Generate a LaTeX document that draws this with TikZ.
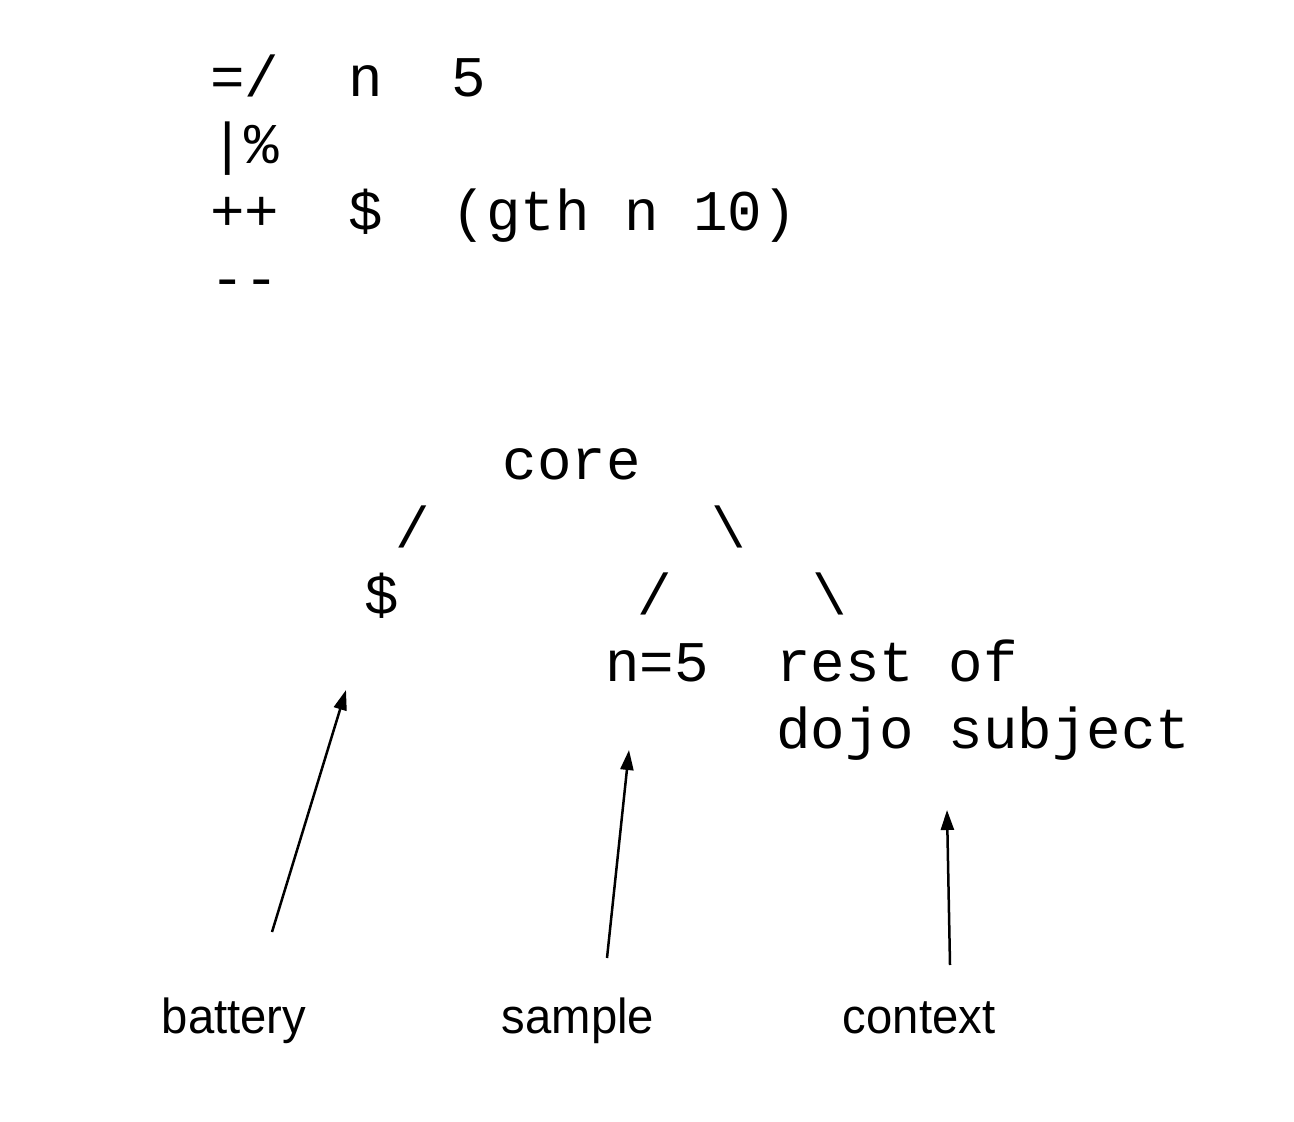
\documentclass[tikz,border=0pt]{standalone}
\usepackage{fontspec}
\setmainfont{Liberation Sans}
\newfontfamily\codefont{Liberation Mono}
\usetikzlibrary{arrows.meta}
\begin{document}
\begin{tikzpicture}[x=0.5pt,y=-0.5pt,
  code/.style={inner sep=0pt,outer sep=0pt,font=\codefont\fontsize{28.75}{33.5}\selectfont},
  lbl/.style={inner sep=0pt,outer sep=0pt,xscale=0.96,font=\fontsize{24.6}{28}\selectfont},
  arr/.style={line width=1.25pt,-{Triangle[length=10pt,width=6.5pt]}}]
\useasboundingbox[fill=white] (0,0) rectangle (1294,1122);
% code block
\node[code,anchor=base west] (l1) at (210,97) {=/\ \ n\ \ 5};
\node[code,anchor=base west] (l2) at (210,164) {|\%};
\node[code,anchor=base west] (l3) at (210,231) {++\ \ \$\ \ (gth\ n\ 10)};
\node[code,anchor=base west] (l4) at (210,298) {-{}-};
% tree
\node[code,anchor=base] (core) at (572,480) {core};
\node[code,anchor=base] (s1) at (413,547) {/};
\node[code,anchor=base] (b1) at (729,547) {\textbackslash};
\node[code,anchor=base] (dollar) at (382,614) {\$};
\node[code,anchor=base] (s2) at (655,614) {/};
\node[code,anchor=base] (b2) at (830,614) {\textbackslash};
\node[code,anchor=base] (n5) at (657,681) {n=5};
\node[code,anchor=base west] (rest) at (776,681) {rest\ of};
\node[code,anchor=base west] (dojo) at (776,748) {dojo\ subject};
% labels
\node[lbl,anchor=base] (battery) at (234,1033) {battery};
\node[lbl,anchor=base] (sample) at (578,1033) {sample};
\node[lbl,anchor=base] (context) at (919,1033) {context};
% arrows
\coordinate (bt) at (272,932);
\coordinate (bh) at (346,690);
\coordinate (st) at (607,958);
\coordinate (sh) at (629,750);
\coordinate (ct) at (950,965);
\coordinate (ch) at (947,810);
\draw[arr] (bt) -- (bh);
\draw[arr] (st) -- (sh);
\draw[arr] (ct) -- (ch);
\end{tikzpicture}
\end{document}
